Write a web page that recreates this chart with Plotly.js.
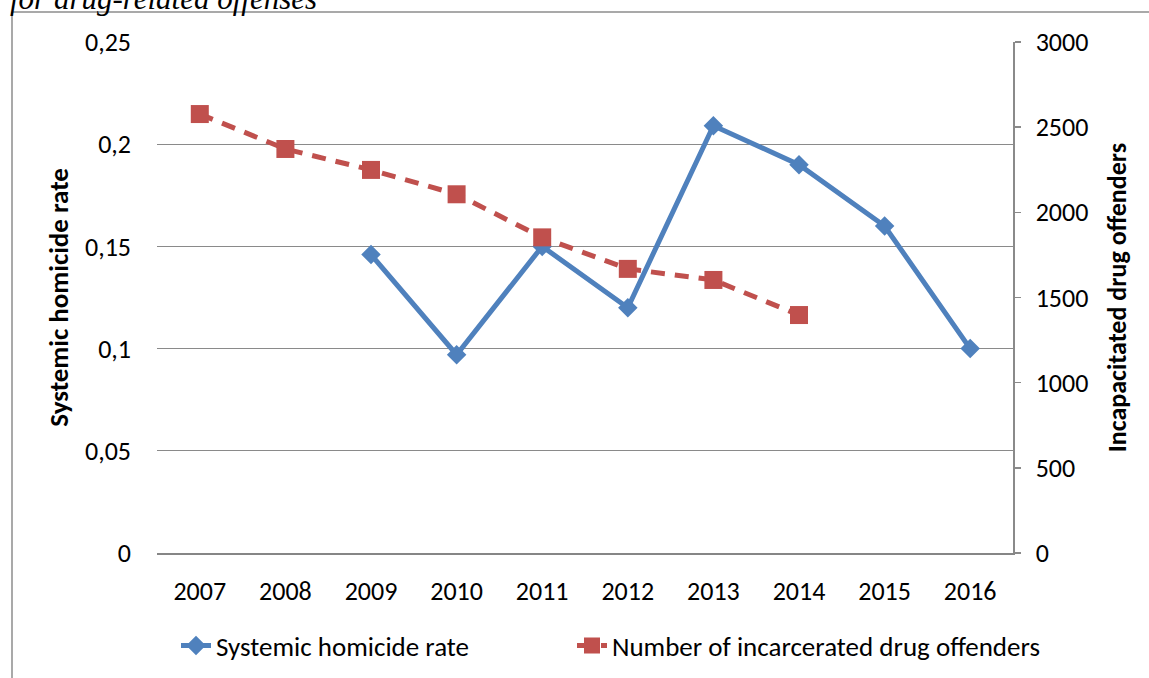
<!DOCTYPE html>
<html>
<head>
<meta charset="utf-8">
<script src="https://cdn.plot.ly/plotly-3.0.1.min.js"></script>
<style>
  html, body { margin: 0; padding: 0; background: #ffffff; }
  #chart { width: 1149px; height: 678px; }
</style>
</head>
<body>
<div id="chart"></div>
<script>
// ---- data ----
var years = ['2007', '2008', '2009', '2010', '2011', '2012', '2013', '2014', '2015', '2016'];
var homicideRate = [null, null, 0.146, 0.097, 0.150, 0.120, 0.209, 0.190, 0.160, 0.100];
var incarceratedOffenders = [2577, 2372, 2249, 2106, 1853, 1668, 1603, 1397, null, null];
var seriesNames = ['Systemic homicide rate', 'Number of incarcerated drug offenders'];
var leftTicks = [0, 0.05, 0.1, 0.15, 0.2, 0.25];
var rightTicks = [0, 500, 1000, 1500, 2000, 2500, 3000];

var FONT = 'Carlito, Lato, sans-serif';
var GRID = '#8a8a8a';

var traces = [
  {
    x: years, y: homicideRate, name: seriesNames[0], type: 'scatter', mode: 'lines+markers',
    connectgaps: false, yaxis: 'y', legend: 'legend',
    line: { color: '#4F81BD', width: 5 },
    marker: { symbol: 'diamond', size: 15, color: '#4F81BD' }
  },
  {
    x: years, y: incarceratedOffenders, name: seriesNames[1], type: 'scatter', mode: 'lines+markers',
    yaxis: 'y2', legend: 'legend2',
    line: { color: '#C0504D', width: 5, dash: '14px,10px' },
    marker: { symbol: 'square', size: 18, color: '#C0504D' }
  }
];

var L = 157, R = 1013, T = 42, B = 553, W = 1149, H = 678;
var pw = R - L, ph = B - T;
function px(x) { return (x - L) / pw; }
function py(y) { return (B - y) / ph; }
function cx(x) { return x / W; }
function cy(y) { return (H - y) / H; }

var legendFont = { family: FONT, size: 27, color: '#000000' };
var tickFont = { family: FONT, size: 26, color: '#000000' };

var layout = {
  width: W, height: H,
  margin: { l: L, r: W - R, t: T, b: H - B, pad: 0 },
  paper_bgcolor: '#ffffff', plot_bgcolor: '#ffffff',
  separators: ', ',
  font: { family: FONT, size: 26, color: '#000000' },
  showlegend: true,
  legend: {
    orientation: 'h', xref: 'container', yref: 'container',
    x: cx(176), xanchor: 'left', y: cy(646), yanchor: 'middle',
    font: legendFont, bgcolor: 'rgba(0,0,0,0)'
  },
  legend2: {
    orientation: 'h', xref: 'container', yref: 'container',
    x: cx(572), xanchor: 'left', y: cy(646), yanchor: 'middle',
    font: legendFont, bgcolor: 'rgba(0,0,0,0)'
  },
  xaxis: {
    type: 'category', range: [-0.5, 9.5], fixedrange: true,
    showgrid: false, zeroline: false,
    showline: true, linecolor: '#868686', linewidth: 2,
    ticks: '', ticklabelstandoff: 14,
    tickfont: tickFont
  },
  yaxis: {
    range: [0, 0.25], tickvals: leftTicks, fixedrange: true,
    showgrid: true, gridcolor: GRID, gridwidth: 1.3,
    zeroline: false, showline: false, ticks: '',
    ticklabelstandoff: 25,
    tickfont: tickFont,
    title: { text: '<b>Systemic homicide rate</b>', font: { family: FONT, size: 27, color: '#000000' }, standoff: 8 }
  },
  yaxis2: {
    range: [0, 3000], tickvals: rightTicks, overlaying: 'y', side: 'right', fixedrange: true,
    showgrid: false, zeroline: false,
    showline: true, linecolor: '#8a8a8a', linewidth: 1.5,
    ticks: 'outside', ticklen: 6, tickcolor: '#8a8a8a', tickwidth: 1.5,
    ticklabelstandoff: 10,
    tickfont: tickFont,
    title: { text: '<b>Incapacitated drug offenders</b>', font: { family: FONT, size: 26, color: '#000000' }, standoff: 20 }
  },
  annotations: [
    {
      text: '<i>for drug-related offenses</i>', xref: 'paper', yref: 'paper',
      x: px(8), xanchor: 'left', y: py(-1), yanchor: 'middle', showarrow: false,
      font: { family: 'Liberation Serif, Times New Roman, serif', size: 31, color: '#000000' }
    }
  ],
  shapes: [
    { type: 'line', xref: 'paper', yref: 'paper', x0: px(12), x1: px(12), y0: py(12), y1: py(700),
      line: { color: '#8c8c8c', width: 1.5 } },
    { type: 'line', xref: 'paper', yref: 'paper', x0: px(12), x1: px(1160), y0: py(12), y1: py(12),
      line: { color: '#8c8c8c', width: 1.5 } }
  ]
};

Plotly.newPlot('chart', traces, layout, { displayModeBar: false, staticPlot: true });
</script>
</body>
</html>
